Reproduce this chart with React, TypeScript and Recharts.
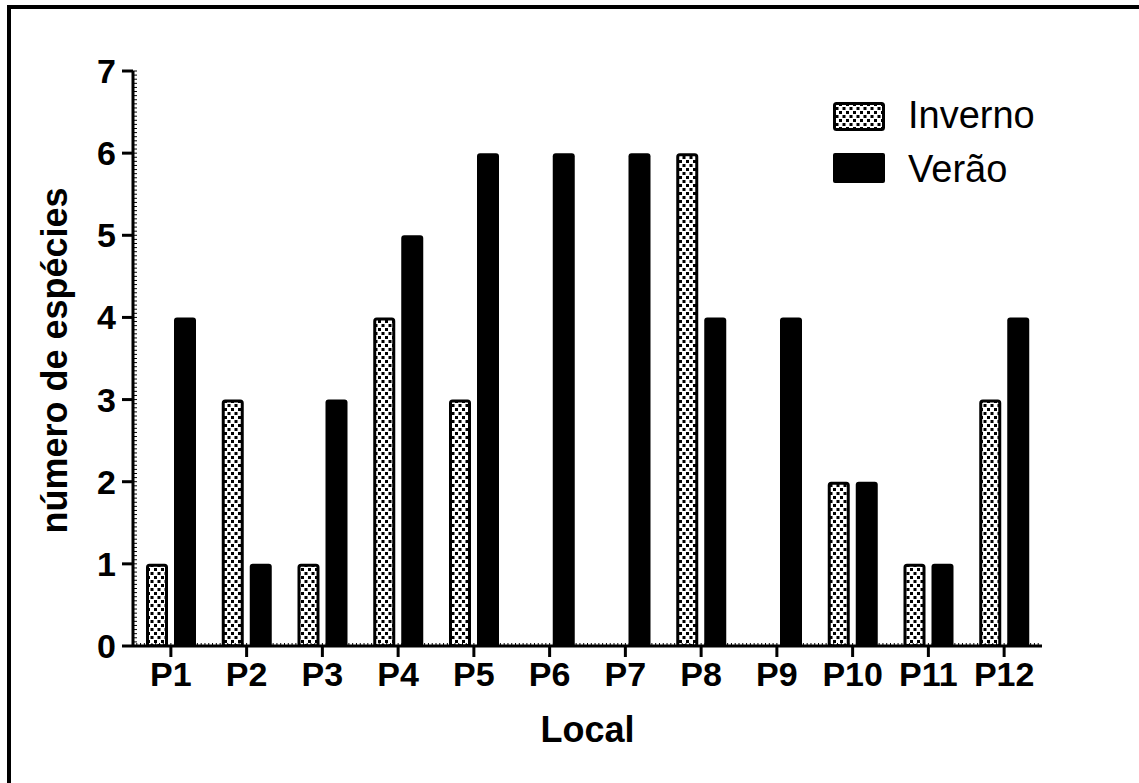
import React from 'react';
import { BarChart, Bar, XAxis, YAxis, Legend, Label } from 'recharts';

const CATEGORIES = ['P1', 'P2', 'P3', 'P4', 'P5', 'P6', 'P7', 'P8', 'P9', 'P10', 'P11', 'P12'];
const INVERNO = [1, 3, 1, 4, 3, 0, 0, 6, 0, 2, 1, 3];
const VERAO = [4, 1, 3, 5, 6, 6, 6, 4, 4, 2, 1, 4];
const Y_MINOR_PER_UNIT = 20;
const X_MINOR_PER_BAND = 20;
const SERIES_NAMES = { inverno: 'Inverno', verao: 'Verão' };

const data = CATEGORIES.map((c, i) => ({ local: c, inverno: INVERNO[i], verao: VERAO[i] }));

const yTicks: number[] = [];
for (let i = 0; i <= 7 * Y_MINOR_PER_UNIT; i++) yTicks.push(i / Y_MINOR_PER_UNIT);

const W = 1139;
const H = 783;
const MARGIN = { top: 71, right: 97, bottom: 17, left: 0 };
const Y_AXIS_W = 133;
const X_AXIS_H = 120;
const PLOT_W = W - MARGIN.left - MARGIN.right - Y_AXIS_W;
const BAND = PLOT_W / CATEGORIES.length;
const FONT = '"Liberation Sans", Arial, Helvetica, sans-serif';

const YTick = (props: any) => {
  const { x, y, payload } = props;
  const v = payload.value;
  const major = Math.abs(v - Math.round(v)) < 1e-6;
  if (major) {
    return (
      <g>
        <line x1={x - 11} x2={x} y1={y} y2={y} stroke="#000" strokeWidth={3} />
        <line x1={x} x2={x + 4} y1={y} y2={y} stroke="#000" strokeWidth={1} />
        <text x={x - 17} y={y} dy={12} textAnchor="end" fontFamily={FONT} fontWeight="bold" fontSize={34} fill="#000">
          {Math.round(v)}
        </text>
      </g>
    );
  }
  return <line x1={x} x2={x + 4} y1={y} y2={y} stroke="#000" strokeWidth={1} />;
};

const XTick = (props: any) => {
  const { x, y, payload } = props;
  const minors = [];
  for (let k = 0; k < X_MINOR_PER_BAND; k++) {
    const xi = x - BAND / 2 + (k * BAND) / X_MINOR_PER_BAND;
    minors.push(<line key={k} x1={xi} x2={xi} y1={y} y2={y - 3} stroke="#000" strokeWidth={1} />);
  }
  return (
    <g>
      {minors}
      <line x1={x} x2={x} y1={y} y2={y + 11} stroke="#000" strokeWidth={3} />
      <text x={x} y={y + 40} textAnchor="middle" fontFamily={FONT} fontWeight="bold" fontSize={34} fill="#000">
        {payload.value}
      </text>
    </g>
  );
};

const InvernoShape = (props: any) => {
  const { x, y, width, height } = props;
  if (!height || height <= 0) return null;
  return (
    <rect x={x + 1.5} y={y + 1.5} width={width - 3} height={height - 1.5} rx={2} ry={2}
      fill="url(#checker)" stroke="#000" strokeWidth={3} />
  );
};

const LegendContent = (props: any) => {
  const payload = props.payload || [];
  return (
    <svg width={260} height={100} style={{ display: 'block' }}>
      {payload.map((entry: any, i: number) => {
        const top = i === 0 ? 7 : 58;
        const base = i === 0 ? 33 : 87;
        const isInv = entry.dataKey === 'inverno';
        return (
          <g key={i}>
            {isInv ? (
              <rect x={9.5} y={top + 1.5} width={49} height={26} rx={2} fill="url(#checker)" stroke="#000" strokeWidth={3} />
            ) : (
              <rect x={8} y={top} width={52} height={30} rx={2} fill="#000" />
            )}
            <text x={83} y={base} fontFamily={FONT} fontSize={38} fill="#000">{entry.value}</text>
          </g>
        );
      })}
    </svg>
  );
};

export default function App() {
  return (
    <div style={{ position: 'absolute', left: 0, top: 0, width: W, height: H, overflow: 'hidden', background: '#fff' }}>
      <div style={{ position: 'absolute', left: 7, top: 5, width: 1300, height: 1000, borderTop: '4px solid #000', borderLeft: '4px solid #000', boxSizing: 'border-box' }} />
      <svg width={0} height={0} style={{ position: 'absolute' }}>
        <defs>
          <pattern id="checker" x={0} y={0} width={7} height={8} patternUnits="userSpaceOnUse">
            <rect x={0} y={0} width={7} height={8} fill="#fff" />
            <rect x={0} y={0} width={3} height={3} fill="#000" />
            <rect x={3.5} y={4} width={3} height={3} fill="#000" />
          </pattern>
        </defs>
      </svg>
      <div style={{ position: 'absolute', left: 0, top: 0 }}>
        <BarChart width={W} height={H} data={data} margin={MARGIN} barSize={22} barGap={6} style={{ fontFamily: FONT }}>
          <XAxis dataKey="local" height={X_AXIS_H} tickSize={0} tickMargin={0} tickLine={false}
            axisLine={{ stroke: '#000', strokeWidth: 3 }} tick={<XTick />} interval={0}>
            <Label content={(p: any) => {
              const vb = p.viewBox;
              return (
                <text x={vb.x + vb.width / 2} y={vb.y + 96} textAnchor="middle" fontFamily={FONT} fontWeight="bold" fontSize={36} fill="#000">Local</text>
              );
            }} />
          </XAxis>
          <YAxis width={Y_AXIS_W} domain={[0, 7]} ticks={yTicks} interval={0} type="number" allowDataOverflow
            tickSize={0} tickMargin={0} tickLine={false} axisLine={{ stroke: '#000', strokeWidth: 3 }} tick={<YTick />}>
            <Label content={(p: any) => {
              const vb = p.viewBox;
              const cx = vb.x + 67;
              const cy = vb.y + vb.height / 2 + 2;
              return (
                <text x={cx} y={cy} transform={`rotate(-90 ${cx} ${cy})`} textAnchor="middle" fontFamily={FONT} fontWeight="bold" fontSize={36} fill="#000">número de espécies</text>
              );
            }} />
          </YAxis>
          <Legend layout="vertical" align="center" verticalAlign="middle" content={<LegendContent />}
            wrapperStyle={{ top: 95, left: 825, width: 260, height: 100 }} />
          <Bar dataKey="inverno" name={SERIES_NAMES.inverno} fill="url(#checker)" shape={<InvernoShape />} isAnimationActive={false} />
          <Bar dataKey="verao" name={SERIES_NAMES.verao} fill="#000" radius={[3, 3, 0, 0]} isAnimationActive={false} />
        </BarChart>
      </div>
    </div>
  );
}
